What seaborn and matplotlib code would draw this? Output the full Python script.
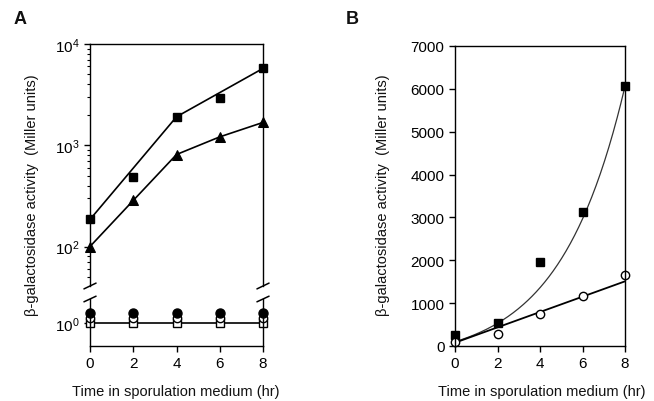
import numpy as np
import matplotlib
matplotlib.use("Agg")
import matplotlib.pyplot as plt
import seaborn as sns

# time points (hr)
hours = [0, 2, 4, 6, 8]

# panel A, log scale (Miller units)
a_squares = [185, 490, 1910, 2950, 5740]
a_triangles = [100, 285, 810, 1210, 1680]
a_square_line_hours = [0, 4, 8]          # square line is drawn through these points only
a_filled_circles = [1.27, 1.27, 1.27, 1.27, 1.27]
a_open_circles = [1.12, 1.12, 1.12, 1.12, 1.12]
a_open_squares = [1.0, 1.0, 1.0, 1.0, 1.0]

# panel B, linear scale
b_squares = [250, 530, 1970, 3120, 6060]
b_circles = [90, 270, 750, 1165, 1650]
# fitted curves as drawn in the figure
sq_fit = {"offset": -362, "amp": 462, "rate": 0.329}   # offset + amp*exp(rate*t)
circ_fit = {"intercept": 77, "slope": 179}             # intercept + slope*t

x_ticks = [0, 2, 4, 6, 8]
b_y_ticks = [0, 1000, 2000, 3000, 4000, 5000, 6000, 7000]
y_label = "\u03b2-galactosidase activity  (Miller units)"
x_label = "Time in sporulation medium (hr)"

sns.set_style("ticks")
plt.rcParams["font.family"] = ["Liberation Sans", "DejaVu Sans"]
plt.rcParams["mathtext.fontset"] = "custom"
plt.rcParams["mathtext.rm"] = "Liberation Sans"
plt.rcParams["axes.linewidth"] = 1.0
plt.rcParams["axes.edgecolor"] = "black"
plt.rcParams["xtick.color"] = "black"
plt.rcParams["ytick.color"] = "black"
plt.rcParams["text.color"] = "#111111"
plt.rcParams["xtick.major.width"] = 1.0
plt.rcParams["ytick.major.width"] = 1.0

fig = plt.figure(figsize=(6.54, 4.02), dpi=100)
W, H = 654.0, 402.0

def box(l, t, r, b):
    return [l / W, 1 - b / H, (r - l) / W, (b - t) / H]

ax_up = fig.add_axes(box(90, 45, 263, 287))
ax_lo = fig.add_axes(box(90, 300, 263, 347))
ax_b = fig.add_axes(box(455, 47, 625, 347))

# ---- panel A upper ----
sq_line = [a_squares[hours.index(h)] for h in a_square_line_hours]
sns.lineplot(x=a_square_line_hours, y=sq_line, ax=ax_up, color="black", lw=1.2)
sns.lineplot(x=hours, y=a_triangles, ax=ax_up, color="black", lw=1.2,
             marker="^", markersize=7, markeredgecolor="black")
ax_up.plot(hours, a_squares, ls="none", marker="s", ms=6.3, color="black", clip_on=False)
ax_up.set_yscale("log")
ax_up.set_ylim(10 ** 1.61, 1e4)
ax_up.set_xlim(0, 8)
ax_up.spines["bottom"].set_visible(False)
ax_up.tick_params(axis="x", bottom=False, labelbottom=False)
ax_up.tick_params(axis="y", which="major", length=4, labelsize=11)
ax_up.tick_params(axis="y", which="minor", length=2.5, width=0.8)
ax_up.set_yticks([1e2, 1e3, 1e4])

# ---- panel A lower ----
sns.lineplot(x=hours, y=a_open_squares, ax=ax_lo, color="black", lw=1.2)
ax_lo.plot(hours, a_open_squares, ls="none", marker="s", ms=6, mfc="white",
           mec="black", mew=1.0, clip_on=False)
ax_lo.plot(hours, a_open_circles, ls="none", marker="o", ms=6, mfc="white",
           mec="black", mew=1.0, clip_on=False)
ax_lo.plot(hours, a_filled_circles, ls="none", marker="o", ms=6.5, mfc="black",
           mec="black", clip_on=False)
ax_lo.set_yscale("log")
ax_lo.set_ylim(10 ** -0.23, 10 ** 0.24)
ax_lo.set_xlim(0, 8)
ax_lo.set_yticks([1])
ax_lo.yaxis.set_minor_locator(matplotlib.ticker.NullLocator())
ax_lo.spines["top"].set_visible(False)
ax_lo.set_xticks(x_ticks)
ax_lo.tick_params(axis="both", length=4, labelsize=11)

# break marks
d = 0.035
kw = dict(color="black", lw=1.1, clip_on=False)
for xx in (0, 1):
    ax_up.plot([xx - d, xx + d], [-0.012, 0.012], transform=ax_up.transAxes, **kw)
    ax_lo.plot([xx - d, xx + d], [1 - 0.06, 1 + 0.06], transform=ax_lo.transAxes, **kw)

# ---- panel B ----
t = np.linspace(0, 8, 200)
sq_curve = sq_fit["offset"] + sq_fit["amp"] * np.exp(sq_fit["rate"] * t)
circ_line = circ_fit["intercept"] + circ_fit["slope"] * t
sns.lineplot(x=t, y=sq_curve, ax=ax_b, color="#333333", lw=0.9)
sns.lineplot(x=t, y=circ_line, ax=ax_b, color="black", lw=1.3)
ax_b.plot(hours, b_squares, ls="none", marker="s", ms=6.3, mfc="black",
          mec="black", clip_on=False)
ax_b.plot(hours, b_circles, ls="none", marker="o", ms=6, mfc="white",
          mec="black", mew=1.0, clip_on=False)
ax_b.set_xlim(0, 8)
ax_b.set_ylim(0, 7000)
ax_b.set_xticks(x_ticks)
ax_b.set_yticks(b_y_ticks)
ax_b.tick_params(axis="both", length=4, labelsize=11)

for ax in (ax_up, ax_lo, ax_b):
    ax.set_xlabel("")
    ax.set_ylabel("")
    for ln in ax.lines:
        ln.set_clip_on(False)

# labels
fig.text(32 / W, 1 - 195 / H, y_label, rotation=90, ha="center", va="center", fontsize=10.5)
fig.text(383 / W, 1 - 195 / H, y_label, rotation=90, ha="center", va="center", fontsize=10.5)
fig.text(176 / W, 1 - 392 / H, x_label, ha="center", va="center", fontsize=10.5)
fig.text(542 / W, 1 - 392 / H, x_label, ha="center", va="center", fontsize=10.5)
fig.text(20 / W, 1 - 20 / H, "A", ha="center", va="center", fontsize=13, fontweight="bold")
fig.text(352 / W, 1 - 20 / H, "B", ha="center", va="center", fontsize=13, fontweight="bold")

fig.savefig("out.png", dpi=100)
